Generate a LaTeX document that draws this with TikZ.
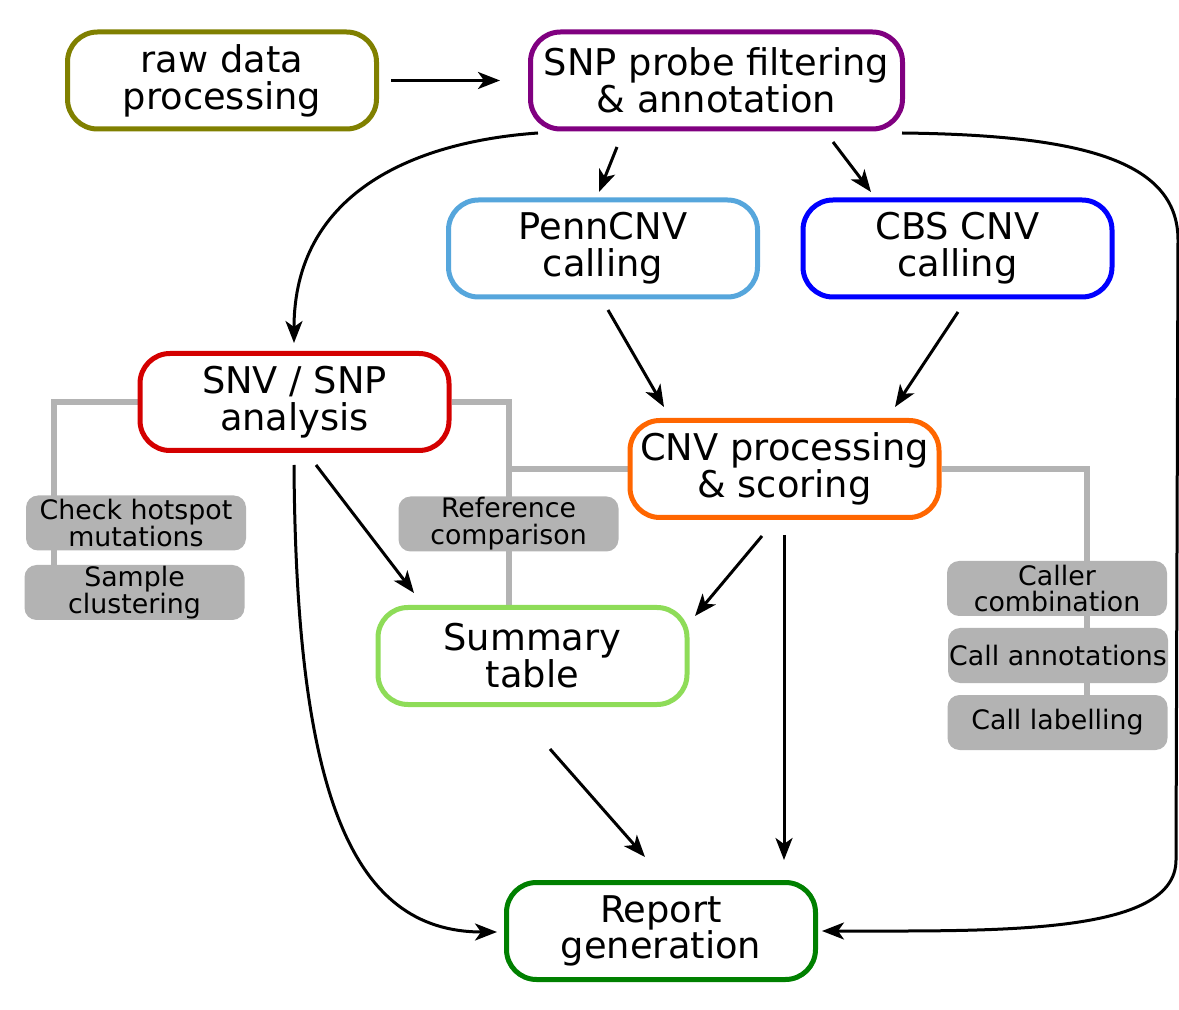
\documentclass[tikz,border=0pt]{standalone}
\usepackage{fontspec}
\setmainfont{DejaVu Sans}
\usetikzlibrary{arrows.meta,calc,backgrounds}
\definecolor{colraw}{HTML}{808000}
\definecolor{colsnp}{HTML}{800080}
\definecolor{colpenn}{HTML}{56A6DC}
\definecolor{colcbs}{HTML}{0000FF}
\definecolor{colsnv}{HTML}{D40000}
\definecolor{colcnv}{HTML}{FF6600}
\definecolor{colsum}{HTML}{8EDC58}
\definecolor{colrep}{HTML}{008000}
\definecolor{colgray}{HTML}{B3B3B3}
\tikzset{
  mainbox/.style={draw=#1, line width=2.5pt, fill=white, rounded corners=15pt,
    minimum width=154.5pt, minimum height=48.5pt, align=center, inner sep=0pt,
    font=\fontsize{18.4pt}{18.4pt}\selectfont},
  subbox/.style={fill=colgray, rounded corners=6pt, minimum width=110pt,
    minimum height=27.5pt, align=center, inner sep=0pt,
    font=\fontsize{13.4pt}{13.4pt}\selectfont},
  grayline/.style={draw=colgray, line width=3pt},
  arr/.style={draw=black, line width=1.5pt,
    -{Stealth[length=11pt,width=8.5pt,inset=3pt]}},
}
\begin{document}
\begin{tikzpicture}[x=0.5pt,y=-0.5pt]
\useasboundingbox (0,0) rectangle (1179,1010);
% main boxes
\node[mainbox=colraw]  (raw)  at (222,80.5)   {raw data\\processing};
\node[mainbox=colsnp, minimum width=186pt] (snp) at (716.5,80.5) {SNP probe filtering\\\& annotation};
\node[mainbox=colpenn] (penn) at (603,248.5)  {PennCNV\\calling};
\node[mainbox=colcbs]  (cbs)  at (957.5,248.5){CBS CNV\\calling};
\node[mainbox=colsnv]  (snv)  at (294.5,402)  {SNV / SNP\\analysis};
\node[mainbox=colcnv]  (cnv)  at (784.5,469)  {CNV processing\\\& scoring};
\node[mainbox=colsum]  (sum)  at (532.5,656)  {Summary\\table};
\node[mainbox=colrep]  (rep)  at (661,931)    {Report\\generation};
% sub boxes
\node[subbox] (hot) at (136,523)    {Check hotspot\\mutations};
\node[subbox] (clu) at (134.5,592.5){Sample\\clustering};
\node[subbox] (ref) at (508.5,524)  {Reference\\comparison};
\node[subbox] (cc)  at (1057,588.5) {Caller\\combination};
\node[subbox] (ca)  at (1058,655.5) {Call annotations};
\node[subbox] (cl)  at (1057.5,722.5){Call labelling};
% gray connectors (behind)
\coordinate (gL) at (54,402);
\coordinate (gLb) at (54,565);
\coordinate (gM) at (509,402);
\coordinate (gMj) at (509,469);
\coordinate (gR) at (1087,469);
\coordinate (gRb) at (1087,695);
\begin{scope}[on background layer]
\draw[grayline] (snv.west) -- (gL) -- (gLb);
\draw[grayline] (snv.east) -- (gM) -- (gM |- sum.north);
\draw[grayline] (gMj) -- (cnv.west);
\draw[grayline] (cnv.east) -- (gR) -- (gRb);
\end{scope}
% arrows
\draw[arr] ($(raw.center)+(169,0)$) -- ($(snp.center)+(-216.5,0)$);
\draw[arr] ($(snp.center)+(-99.5,66.5)$) -- ($(penn.center)+(-4,-56.5)$);
\draw[arr] ($(snp.center)+(116.5,61.5)$) -- ($(cbs.center)+(-86.5,-56.5)$);
\draw[arr] ($(snp.center)+(-178.5,52.5)$) .. controls (410,142) and (294,195) .. ($(snv.center)+(-0.5,-59)$);
\draw[arr] ($(snp.center)+(185.5,52.5)$) .. controls (1080,135) and (1178,160) .. (1178,240)
   -- (1176,860) .. controls (1176,935) and (1000,931) .. ($(rep.center)+(161,0)$);
\draw[arr] ($(penn.center)+(5,61.5)$) -- ($(cnv.center)+(-120.5,-62)$);
\draw[arr] ($(cbs.center)+(0.5,63.5)$) -- ($(cnv.center)+(110.5,-62)$);
\draw[arr] ($(snv.center)+(21.5,63)$) -- ($(sum.center)+(-118.5,-63)$);
\draw[arr] ($(snv.center)+(-0.5,63)$) .. controls (296,790) and (350,932) .. ($(rep.center)+(-164,1)$);
\draw[arr] ($(cnv.center)+(-22.5,67)$) -- ($(sum.center)+(162.5,-40)$);
\draw[arr] ($(cnv.center)+(-0.5,66)$) -- ($(rep.center)+(123,-71)$);
\draw[arr] ($(sum.center)+(17.5,93)$) -- ($(rep.center)+(-16,-74)$);
\end{tikzpicture}
\end{document}
